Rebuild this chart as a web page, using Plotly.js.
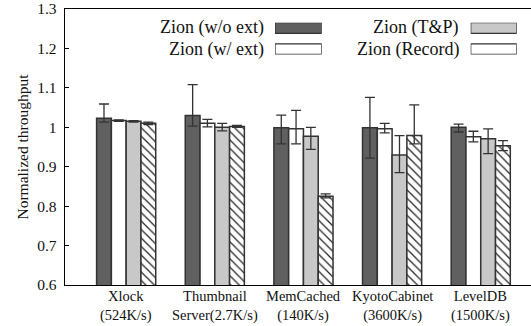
<!DOCTYPE html>
<html>
<head>
<meta charset="utf-8">
<script src="https://cdn.plot.ly/plotly-3.0.1.min.js"></script>
<style>html,body{margin:0;padding:0;background:#fff;}#chart{width:531px;height:326px;}</style>
</head>
<body>
<div id="chart"></div>
<script>
var labelLine1 = ["Xlock", "Thumbnail", "MemCached", "KyotoCabinet", "LevelDB"];
var labelLine2 = ["(524K/s)", "Server(2.7K/s)", "(140K/s)", "(3600K/s)", "(1500K/s)"];
var categories = labelLine1.map(function (s, i) { return s + " " + labelLine2[i]; });

var woExt      = [1.023, 1.030, 0.999, 0.999, 1.000];
var woExtPlus  = [0.036, 0.078, 0.032, 0.077, 0.008];
var woExtMinus = [0.010, 0.027, 0.041, 0.077, 0.012];

var wExt      = [1.017, 1.010, 0.996, 0.996, 0.976];
var wExtPlus  = [0.002, 0.010, 0.047, 0.014, 0.014];
var wExtMinus = [0.002, 0.009, 0.038, 0.010, 0.013];

var tp      = [1.015, 1.000, 0.977, 0.930, 0.971];
var tpPlus  = [0.002, 0.010, 0.023, 0.049, 0.025];
var tpMinus = [0.002, 0.009, 0.033, 0.045, 0.038];

var rec      = [1.010, 1.002, 0.825, 0.979, 0.953];
var recPlus  = [0.003, 0.003, 0.006, 0.078, 0.013];
var recMinus = [0.003, 0.002, 0.004, 0.021, 0.012];

var seriesNames = ["Zion (w/o ext)", "Zion (w/ ext)", "Zion (T&P)", "Zion (Record)"];

var FONT = "Liberation Serif";
var OUT = "#333";

function barTrace(name, y, plus, minus, color, shape) {
  return {
    type: "bar", name: name, x: categories, y: y,
    marker: {
      color: color,
      line: {color: OUT, width: 1.5},
      pattern: {shape: shape, fgcolor: "#222", bgcolor: "#fff", size: 6, solidity: 0.2}
    },
    error_y: {type: "data", symmetric: false, array: plus, arrayminus: minus,
              color: "#333", thickness: 1.3, width: 5},
    showlegend: false, hoverinfo: "skip"
  };
}

var data = [
  barTrace(seriesNames[0], woExt, woExtPlus, woExtMinus, "#606060", ""),
  barTrace(seriesNames[1], wExt, wExtPlus, wExtMinus, "#ffffff", ""),
  barTrace(seriesNames[2], tp, tpPlus, tpMinus, "#c8c8c8", ""),
  barTrace(seriesNames[3], rec, recPlus, recMinus, "#ffffff", "\\"),
  {type: "bar", orientation: "h", x: [1, 1], y: [1, 0], width: 0.5, xaxis: "x2", yaxis: "y2",
   marker: {color: ["#606060", "#ffffff"], line: {color: OUT, width: 1.3},
            pattern: {shape: ["", ""], fgcolor: "#222", bgcolor: "#fff", size: 6, solidity: 0.2}},
   showlegend: false, hoverinfo: "skip"},
  {type: "bar", orientation: "h", x: [1, 1], y: [1, 0], width: 0.5, xaxis: "x3", yaxis: "y3",
   marker: {color: ["#c8c8c8", "#ffffff"], line: {color: OUT, width: 1.3},
            pattern: {shape: ["", "\\"], fgcolor: "#222", bgcolor: "#fff", size: 6, solidity: 0.2}},
   showlegend: false, hoverinfo: "skip"}
];

var L = 65, R = 531, T = 9, B = 285;
function px(x) { return (x - L) / (R - L); }
function py(y) { return (B - y) / (B - T); }

var hiddenAx = {range: [0, 1], showgrid: false, zeroline: false, showticklabels: false, ticks: "", showline: false, fixedrange: true};
var hiddenAy = {range: [-0.25, 1.25], showgrid: false, zeroline: false, showticklabels: false, ticks: "", showline: false, fixedrange: true};

var annotations = [];
var legendTextX = [266, 266, 461, 461];
var legendTextY = [28, 49.5, 28, 49.5];
seriesNames.forEach(function (n, i) {
  annotations.push({text: n, xref: "paper", yref: "paper", x: px(legendTextX[i]), y: py(legendTextY[i]),
    xanchor: "right", yanchor: "middle", showarrow: false, font: {family: FONT, size: 18, color: "#111"}});
});
categories.forEach(function (c, i) {
  annotations.push({text: labelLine1[i] + "<br>" + labelLine2[i], xref: "x", yref: "paper", x: c, y: py(305.5),
    xanchor: "center", yanchor: "middle", showarrow: false, font: {family: FONT, size: 14.5, color: "#111"}});
});

var layout = {
  width: 531, height: 326,
  margin: {l: L, r: 531 - R, t: T, b: 326 - B, pad: 0},
  paper_bgcolor: "#fff", plot_bgcolor: "#fff",
  font: {family: FONT, size: 15, color: "#111"},
  barmode: "group", bargap: 0.333, bargroupgap: 0,
  showlegend: false,
  xaxis: {
    type: "category", range: [-0.69, 4.567],
    showline: true, linecolor: "#000", linewidth: 1.3, mirror: true,
    ticks: "", showgrid: false, zeroline: false, showticklabels: false
  },
  yaxis: {
    range: [0.6, 1.3], dtick: 0.1, tick0: 0.6,
    showline: true, linecolor: "#000", linewidth: 1.3,
    ticks: "inside", ticklen: 4, tickcolor: "#000",
    showgrid: false, zeroline: false, ticklabelstandoff: 4,
    tickfont: {family: FONT, size: 15.5, color: "#111"},
    title: {text: "Normalized throughput", font: {family: FONT, size: 15.5, color: "#111"}, standoff: 4}
  },
  xaxis2: Object.assign({domain: [px(275), px(321.7)], anchor: "y2"}, hiddenAx),
  yaxis2: Object.assign({domain: [py(54.5), py(22.7)], anchor: "x2"}, hiddenAy),
  xaxis3: Object.assign({domain: [px(470.7), px(516.7)], anchor: "y3"}, hiddenAx),
  yaxis3: Object.assign({domain: [py(54.5), py(22.7)], anchor: "x3"}, hiddenAy),
  annotations: annotations
};

Plotly.newPlot("chart", data, layout, {staticPlot: true, displayModeBar: false});
</script>
</body>
</html>
